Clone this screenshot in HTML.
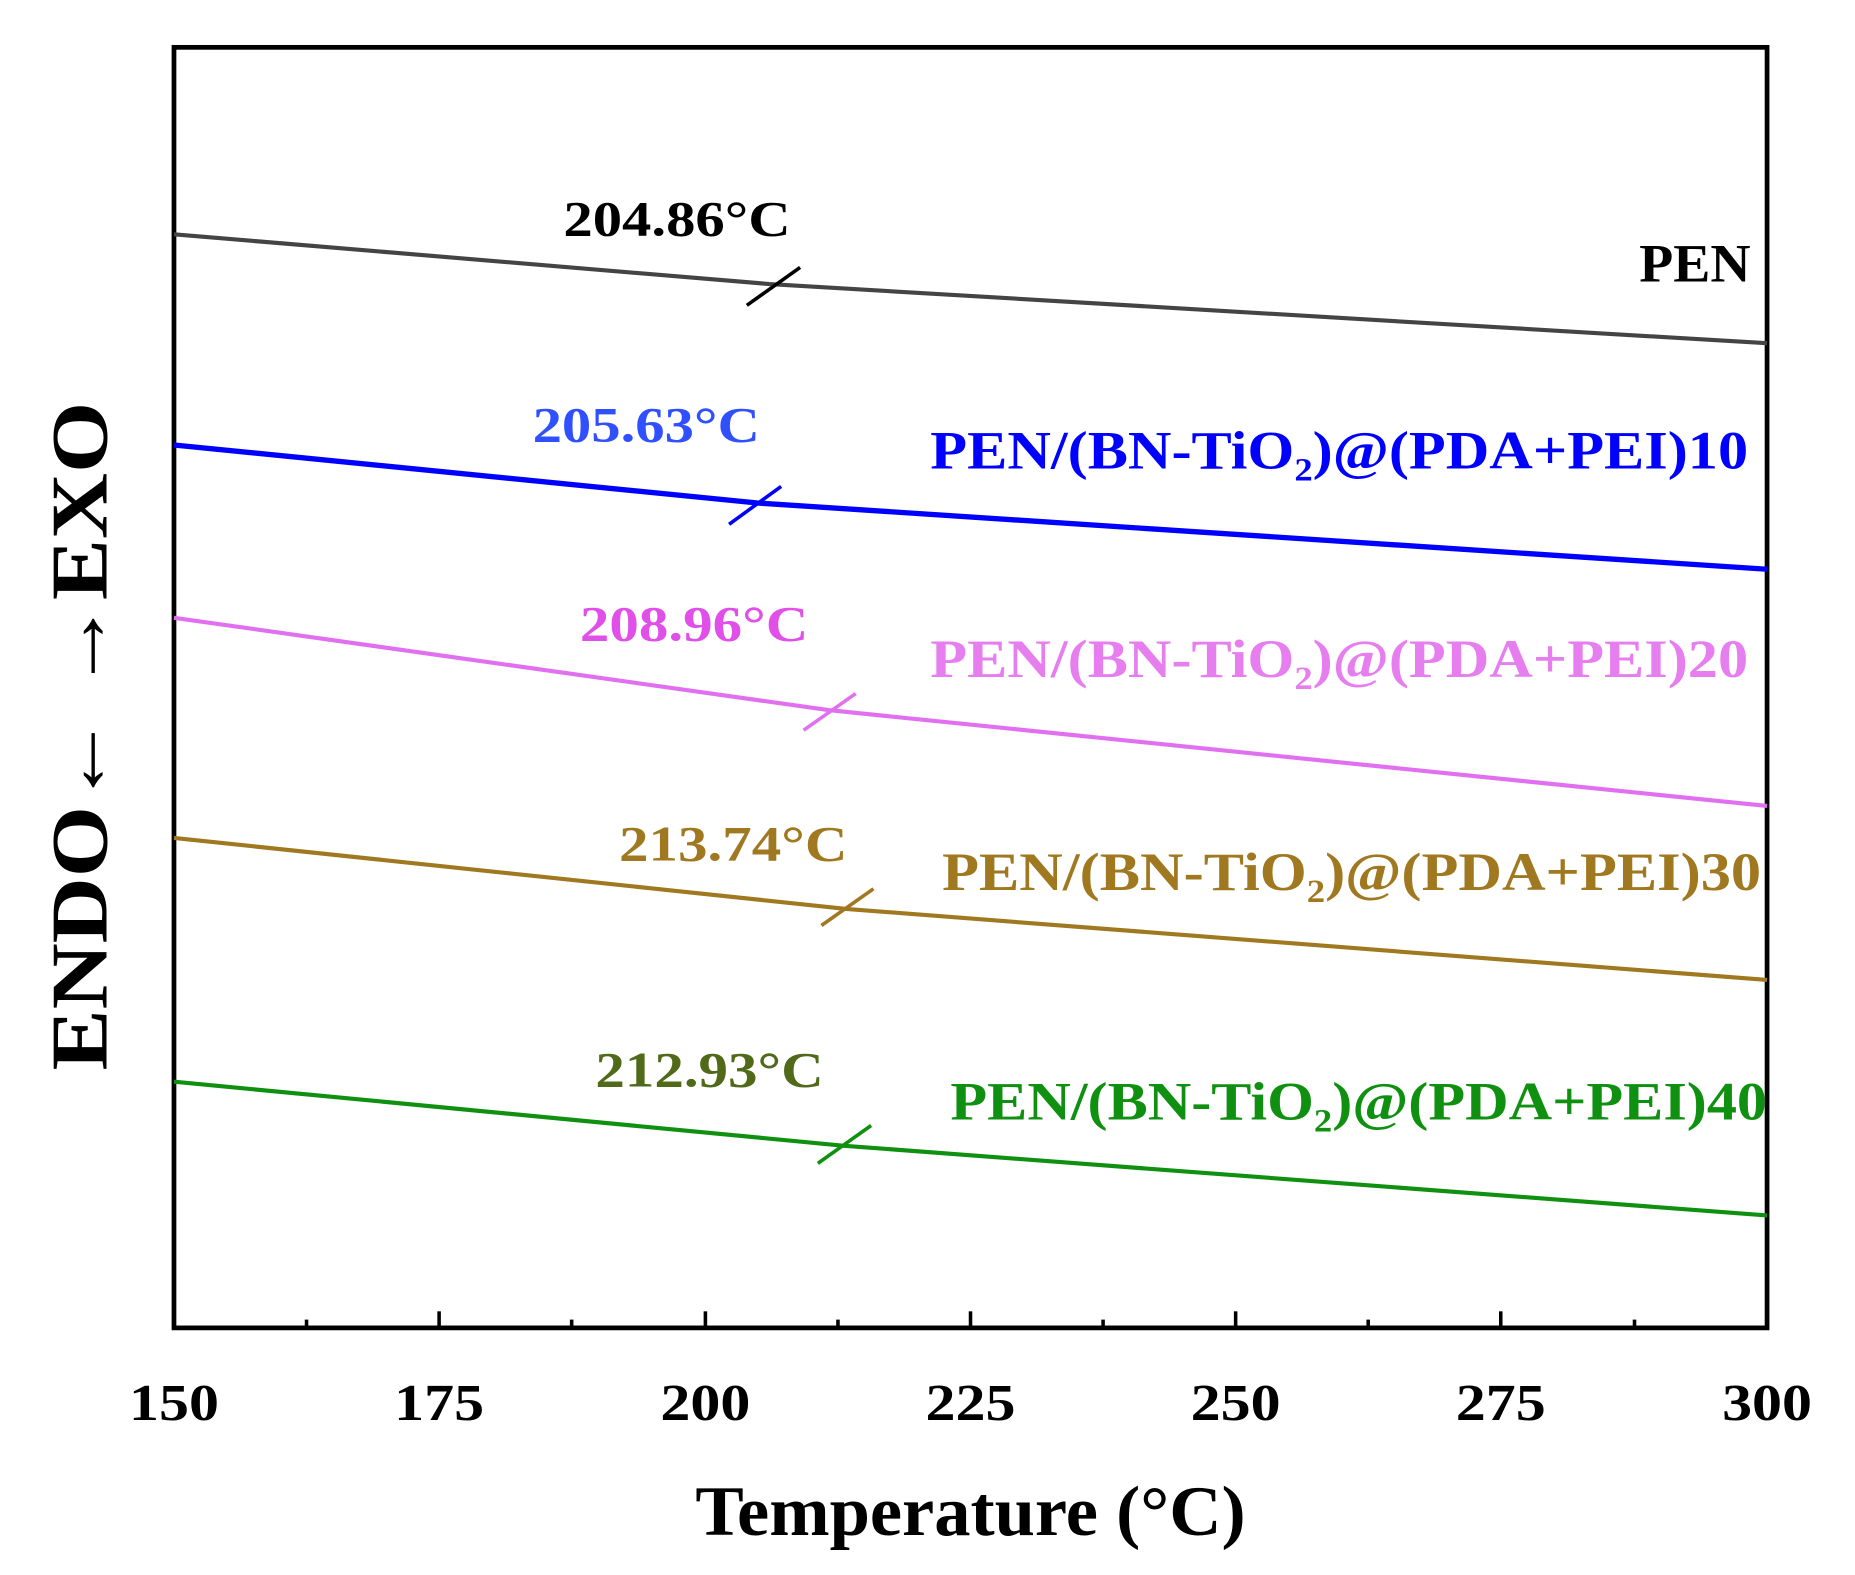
<!DOCTYPE html>
<html><head><meta charset="utf-8"><style>html,body{margin:0;padding:0;background:#fff}svg{display:block}</style></head><body>
<svg width="1855" height="1575" viewBox="0 0 1567.3 1330.8" preserveAspectRatio="none" xmlns="http://www.w3.org/2000/svg" font-family="Liberation Serif, serif" font-weight="bold">
<rect x="147" y="40" width="1346" height="1082" fill="none" stroke="#000" stroke-width="4"/>
<g stroke="#000" stroke-width="3">
<line x1="147" y1="1122" x2="147" y2="1108"/><line x1="259" y1="1122" x2="259" y2="1115"/>
<line x1="371" y1="1122" x2="371" y2="1108"/><line x1="483" y1="1122" x2="483" y2="1115"/>
<line x1="596" y1="1122" x2="596" y2="1108"/><line x1="708" y1="1122" x2="708" y2="1115"/>
<line x1="820" y1="1122" x2="820" y2="1108"/><line x1="932" y1="1122" x2="932" y2="1115"/>
<line x1="1044" y1="1122" x2="1044" y2="1108"/><line x1="1156" y1="1122" x2="1156" y2="1115"/>
<line x1="1268" y1="1122" x2="1268" y2="1108"/><line x1="1381" y1="1122" x2="1381" y2="1115"/>
</g>
<g font-size="44" text-anchor="middle">
<text x="147" y="1200" textLength="76" lengthAdjust="spacingAndGlyphs">150</text><text x="371" y="1200" textLength="76" lengthAdjust="spacingAndGlyphs">175</text><text x="596" y="1200" textLength="76" lengthAdjust="spacingAndGlyphs">200</text>
<text x="820" y="1200" textLength="76" lengthAdjust="spacingAndGlyphs">225</text><text x="1044" y="1200" textLength="76" lengthAdjust="spacingAndGlyphs">250</text><text x="1268" y="1200" textLength="76" lengthAdjust="spacingAndGlyphs">275</text><text x="1493" y="1200" textLength="76" lengthAdjust="spacingAndGlyphs">300</text>
</g>
<text x="820" y="1297" font-size="60" text-anchor="middle" textLength="465" lengthAdjust="spacingAndGlyphs">Temperature (°C)</text>
<text transform="translate(90,622) rotate(-90)" font-size="68" text-anchor="middle" textLength="565" lengthAdjust="spacingAndGlyphs">ENDO← →EXO</text>
<g fill="none" stroke-width="3.5">
<polyline stroke="#444" points="147,198 650,240 1493,290"/>
<line stroke="#000" stroke-width="3" x1="631" y1="258" x2="676" y2="226"/>
<polyline stroke="#0000ff" stroke-width="4.5" points="147,376 640,425 1493,481"/>
<line stroke="#0000ff" stroke-width="3" x1="616" y1="443" x2="660" y2="411"/>
<polyline stroke="#e070f0" points="147,522 700,600 1493,681"/>
<line stroke="#e070f0" stroke-width="3" x1="679" y1="617" x2="723" y2="586"/>
<polyline stroke="#a07820" points="147,708 715,768 1493,828"/>
<line stroke="#a07820" stroke-width="3" x1="694" y1="782" x2="738" y2="751"/>
<polyline stroke="#109010" points="147,914 712,968 1493,1027"/>
<line stroke="#109010" stroke-width="3" x1="691" y1="983" x2="736" y2="951"/>
</g>
<g font-size="42">
<text x="476" y="199" fill="#000" textLength="192" lengthAdjust="spacingAndGlyphs">204.86°C</text>
<text x="450" y="373" fill="#3050ff" textLength="192" lengthAdjust="spacingAndGlyphs">205.63°C</text>
<text x="490" y="541" fill="#e050e8" textLength="193" lengthAdjust="spacingAndGlyphs">208.96°C</text>
<text x="523" y="727" fill="#a07820" textLength="193" lengthAdjust="spacingAndGlyphs">213.74°C</text>
<text x="503" y="918" fill="#506a1a" textLength="193" lengthAdjust="spacingAndGlyphs">212.93°C</text>
</g>
<g font-size="46">
<text x="1385" y="238" fill="#000" textLength="94" lengthAdjust="spacingAndGlyphs">PEN</text>
<text x="786" y="396" fill="#0000ff" textLength="691" lengthAdjust="spacingAndGlyphs">PEN/(BN-TiO<tspan font-size="28" dy="10">2</tspan><tspan dy="-10">)@(PDA+PEI)10</tspan></text>
<text x="786" y="572" fill="#e77ef0" textLength="691" lengthAdjust="spacingAndGlyphs">PEN/(BN-TiO<tspan font-size="28" dy="10">2</tspan><tspan dy="-10">)@(PDA+PEI)20</tspan></text>
<text x="796" y="752" fill="#a07820" textLength="692" lengthAdjust="spacingAndGlyphs">PEN/(BN-TiO<tspan font-size="28" dy="10">2</tspan><tspan dy="-10">)@(PDA+PEI)30</tspan></text>
<text x="803" y="946" fill="#109010" textLength="690" lengthAdjust="spacingAndGlyphs">PEN/(BN-TiO<tspan font-size="28" dy="10">2</tspan><tspan dy="-10">)@(PDA+PEI)40</tspan></text>
</g>
</svg>
</body></html>
